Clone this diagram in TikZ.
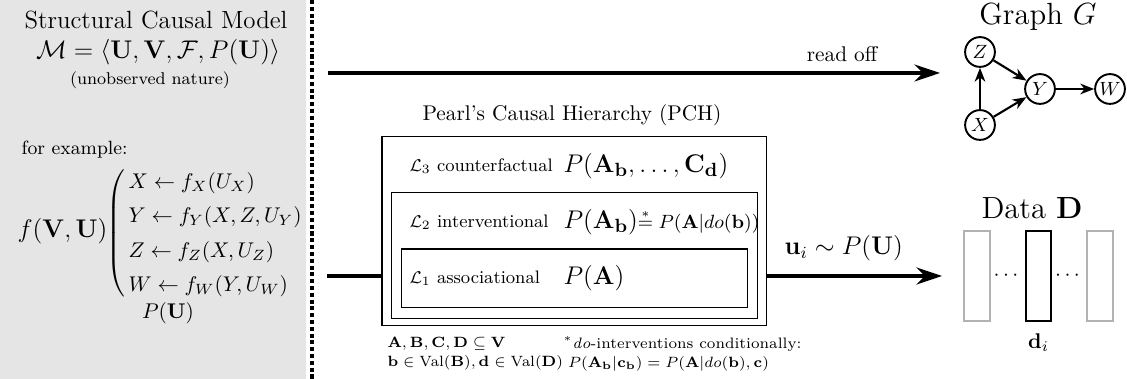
\documentclass[tikz,border=0pt]{standalone}
\usepackage{amsmath,amssymb}
\usepackage{tikz}
\usetikzlibrary{arrows.meta,positioning}

\begin{document}
\begin{tikzpicture}[x=0.47pt,y=-0.47pt,
		bigarrow/.style={line width=1.6pt,-{Stealth[length=12pt,width=8pt,inset=4pt]}},
		var/.style={draw,circle,line width=0.9pt,inner sep=0pt,minimum size=14pt,font=\small},
		edge/.style={line width=1pt,-{Stealth[length=6.5pt,width=5pt,inset=2pt]}},
		level/.style={draw,line width=0.5pt,inner sep=0pt},
		levelname/.style={anchor=west,font=\fontsize{8.5}{10}\selectfont},
		levelprob/.style={anchor=west,font=\fontsize{12.3}{15}\selectfont},
		sample/.style={draw,line width=0.8pt,minimum width=12pt,minimum height=42pt,inner sep=0pt}]
			\useasboundingbox (0,0) rectangle (1127,379);
			\fill[gray!20] (0,0) rectangle (306,379);
			\draw[line width=1.6pt,dash pattern=on 1.9pt off 1.3pt](312,0) -- (312,379);
			\node (scm) at (156,20) {\fontsize{11.7}{14}\selectfont Structural Causal Model};
			\node (model) at (158,52) {\fontsize{12.8}{15}\selectfont $\mathcal{M}=\langle\mathbf{U},\mathbf{V},\mathcal{F},P(\mathbf{U})\rangle$};
			\node[font=\footnotesize] (nature) at (150,80) {(unobserved nature)};
			\node[anchor=west,font=\small] (example) at (14,150) {for example:};
			\node[anchor=west,font=\large] (fvu) at (10,231) {$f(\mathbf{V},\mathbf{U})$};
			\node[anchor=west,inner sep=0pt] (eqs) at (106,233) {$\left(\renewcommand{\arraystretch}{1.35}\begin{array}{@{\,}l}
				X\leftarrow f_X(U_X)\\
				Y\leftarrow f_Y(X,Z,U_Y)\\
				Z\leftarrow f_Z(X,U_Z)\\
				W\leftarrow f_W(Y,U_W)
			\end{array}\right.$};
			\node (pu) at (168,313) {$P(\mathbf{U})$};
			\coordinate (readstart) at (328,73);
			\coordinate (readend) at (940,73);
			\draw[bigarrow](readstart) -- (readend) node[pos=0.84,above=1pt]{read off};
			\node (graph) at (1038,17) {\Large Graph $G$};
			\node[var] (z) at (980,52) {$Z$};
			\node[var] (y) at (1040,89) {$Y$};
			\node[var] (w) at (1110,89) {$W$};
			\node[var] (x) at (980,125) {$X$};
			\draw[edge](x) -- (z);
			\draw[edge](z) -- (y);
			\draw[edge](x) -- (y);
			\draw[edge](y) -- (w);
			\node (pch) at (572,115) {Pearl's Causal Hierarchy (PCH)};
			\node[level,minimum width=180.5pt,minimum height=88.4pt] (pch3) at (574,231) {};
			\node[level,minimum width=171.6pt,minimum height=58.8pt] (pch2) at (574.5,255.5) {};
			\node[level,minimum width=162.2pt,minimum height=27.7pt] (pch1) at (574.5,278.5) {};
			\node[levelname] (l3) at (402,166) {$\mathcal{L}_3$ counterfactual};
			\node[levelprob] (q3) at (556,166) {$P(\mathbf{A}_\mathbf{b},\dots,\mathbf{C}_\mathbf{d})$};
			\node[levelname] (l2) at (402,222) {$\mathcal{L}_2$ interventional};
			\node[levelprob] (q2) at (556,222) {$P(\mathbf{A}_\mathbf{b})$\fontsize{9}{11}\selectfont$\overset{*}{=}P(\mathbf{A}|do(\mathbf{b}))$};
			\node[levelname] (l1) at (402,278) {$\mathcal{L}_1$ associational};
			\node[levelprob] (q1) at (556,278) {$P(\mathbf{A})$};
			\node[anchor=west,align=left,font=\fontsize{7.4}{9}\selectfont] (sets) at (380,354) {$\mathbf{A},\mathbf{B},\mathbf{C},\mathbf{D}\subseteq\mathbf{V}$\\ $\mathbf{b}\in\mathrm{Val}(\mathbf{B}),\mathbf{d}\in\mathrm{Val}(\mathbf{D})$};
			\node[anchor=west,align=left,font=\fontsize{7.1}{9}\selectfont] (note) at (556,354) {$^*$\textit{do}-interventions conditionally:\\ \hspace{0.3em}$P(\mathbf{A}_\mathbf{b}|\mathbf{c}_\mathbf{b})=P(\mathbf{A}|do(\mathbf{b}),\mathbf{c})$};
			\coordinate (scmout) at (327,276);
			\draw[line width=1.6pt](scmout) -- (scmout -| pch3.west);
			\coordinate (datain) at (942,276);
			\draw[bigarrow](pch3.east |- datain) -- (datain) node[pos=0.44,above=3pt]{\large $\mathbf{u}_i\sim P(\mathbf{U})$};
			\node[sample,draw=gray!60] (d1) at (977,276) {};
			\node[sample] (d2) at (1038.5,276) {};
			\node[sample,draw=gray!60] (d3) at (1100,276) {};
			\path (d1) -- (d2) node[midway]{$\cdots$};
			\path (d2) -- (d3) node[midway]{$\cdots$};
			\node[below=2pt of d2] (di) {$\mathbf{d}_i$};
			\node (data) at (1032,208) {\Large Data $\mathbf{D}$};
		\end{tikzpicture}
\end{document}
